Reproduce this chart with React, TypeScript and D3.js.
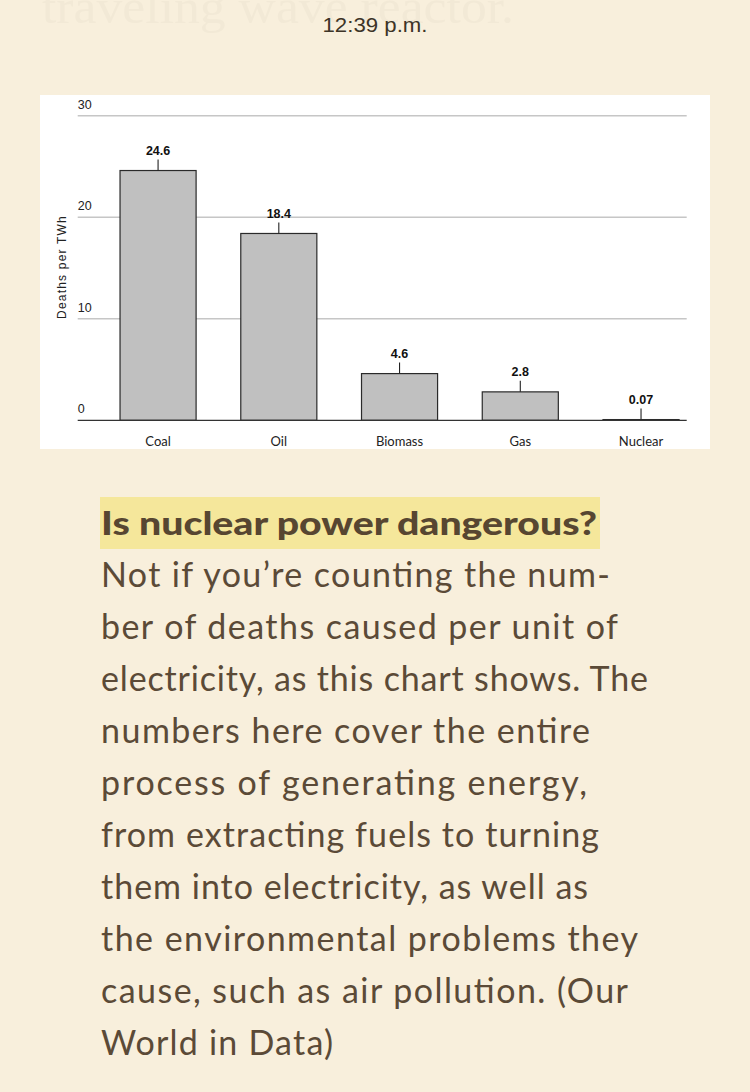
import React from "react";
import * as d3 from "d3";

const categories = ["Coal", "Oil", "Biomass", "Gas", "Nuclear"];
const deaths = [24.6, 18.4, 4.6, 2.8, 0.07];
const valueLabels = ["24.6", "18.4", "4.6", "2.8", "0.07"];
const yTicks = [0, 10, 20, 30];
const yTitle = "Deaths per TWh";

const timeText = "12:39 p.m.";
const ghostText = "traveling wave reactor.";
const heading = "Is nuclear power dangerous?";
const bodyLines = [
  "Not if you\u2019re counting the num-",
  "ber of deaths caused per unit of",
  "electricity, as this chart shows. The",
  "numbers here cover the entire",
  "process of generating energy,",
  "from extracting fuels to turning",
  "them into electricity, as well as",
  "the environmental problems they",
  "cause, such as air pollution. (Our",
  "World in Data)",
];
const bodyLineWidths = [509, 517, 547, 489, 486, 498, 487, 537, 527, 232];

export default function App() {
  const W = 750;
  const H = 1092;
  const x = d3
    .scaleBand<string>()
    .domain(categories)
    .range([97.7, 701.4])
    .paddingInner(0.37)
    .paddingOuter(0.185);
  const y = d3.scaleLinear().domain([0, 30]).range([420.3, 115.7]);
  const gridX0 = 77.7;
  const gridX1 = 686.7;
  const sans = "'Liberation Sans', Arial, Helvetica, sans-serif";
  const human = "Lato, 'Open Sans', sans-serif";
  const textColor = "#5b4a37";

  return (
    <svg
      width={W}
      height={H}
      viewBox={`0 0 ${W} ${H}`}
      style={{ position: "absolute", left: 0, top: 0, display: "block" }}
    >
      <rect x={0} y={0} width={W} height={H} fill="#f8efdc" />
      <text
        x={42}
        y={23}
        fontFamily="'Liberation Serif', 'DejaVu Serif', serif"
        fontSize={48}
        fill="#f2e9d6"
        textLength={472}
        lengthAdjust="spacingAndGlyphs"
      >
        {ghostText}
      </text>
      <text
        x={375}
        y={32}
        textAnchor="middle"
        fontFamily={sans}
        fontSize={21}
        fill="#3d3427"
        textLength={105}
        lengthAdjust="spacingAndGlyphs"
      >
        {timeText}
      </text>

      {/* chart panel */}
      <rect x={40} y={95} width={670} height={354} fill="#ffffff" />
      {yTicks
        .filter((t) => t > 0)
        .map((t) => (
          <line
            key={"g" + t}
            x1={gridX0}
            x2={gridX1}
            y1={y(t)}
            y2={y(t)}
            stroke="#c6c6c6"
            strokeWidth={1.4}
          />
        ))}
      {yTicks.map((t) => (
        <text
          key={"t" + t}
          x={gridX0}
          y={y(t) - 7}
          fontFamily={sans}
          fontSize={12.5}
          fill="#222"
        >
          {t}
        </text>
      ))}
      <text
        transform={`translate(66, ${267}) rotate(-90)`}
        textAnchor="middle"
        fontFamily={sans}
        fontSize={12}
        letterSpacing={1.2}
        fill="#222"
      >
        {yTitle}
      </text>
      {categories.map((c, i) => {
        const bx = x(c) as number;
        const bw = x.bandwidth();
        const top = y(deaths[i]);
        const cx = bx + bw / 2;
        return (
          <g key={c}>
            <rect
              x={bx}
              y={top}
              width={bw}
              height={y(0) - top}
              fill="#c0c0c0"
              stroke="#2a2a2a"
              strokeWidth={1.2}
            />
            <line x1={cx} x2={cx} y1={top - 11} y2={top} stroke="#222" strokeWidth={1.1} />
            <text
              x={cx}
              y={top - 15.5}
              textAnchor="middle"
              fontFamily={sans}
              fontWeight="bold"
              fontSize={12.5}
              fill="#111"
            >
              {valueLabels[i]}
            </text>
            <text
              x={cx}
              y={445.5}
              textAnchor="middle"
              fontFamily={human}
              fontSize={13}
              fill="#222"
            >
              {c}
            </text>
          </g>
        );
      })}
      <line x1={gridX0} x2={gridX1} y1={y(0)} y2={y(0)} stroke="#333" strokeWidth={1.3} />

      {/* article text */}
      <rect x={100} y={497} width={500} height={52} fill="#f5e79b" />
      <text
        x={101}
        y={535}
        fontFamily={human}
        fontWeight={900}
        fontSize={33}
        fill="#574631"
        textLength={496}
        lengthAdjust="spacingAndGlyphs"
      >
        {heading}
      </text>
      {bodyLines.map((ln, i) => (
        <text
          key={i}
          x={101}
          y={587 + i * 52}
          fontFamily={human}
          fontWeight={400}
          fontSize={34}
          fill={textColor}
          textLength={bodyLineWidths[i]}
          lengthAdjust="spacing"
        >
          {ln}
        </text>
      ))}
    </svg>
  );
}
